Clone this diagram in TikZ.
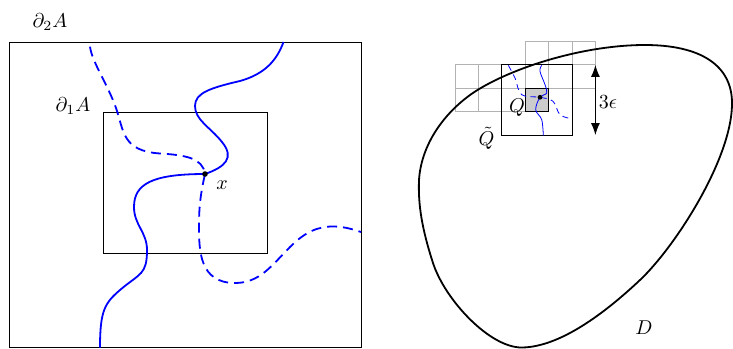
\documentclass[tikz,border=0pt]{standalone}
\usetikzlibrary{arrows.meta}
\tikzset{
  frame/.style={draw=black, line width=0.45pt},
  pathsolid/.style={draw=blue, line width=0.9pt},
  pathdash/.style={draw=blue, line width=0.9pt, dash pattern=on 5pt off 3pt},
  smallsolid/.style={draw=blue, line width=0.4pt},
  smalldash/.style={draw=blue, line width=0.4pt, dash pattern=on 3pt off 2.2pt},
  gridline/.style={draw=black!30, line width=0.45pt},
  lbl/.style={inner sep=0pt},
}
\begin{document}
\begin{tikzpicture}[x=0.5pt,y=-0.5pt]
\useasboundingbox (0,0) rectangle (733,348);
% ---------- left panel ----------
\draw[frame] (9,42) rectangle (361,347);
\draw[frame] (103,112) rectangle (267,253);
\node[lbl] (d2) at (50,22) {$\partial_2 A$};
\node[lbl] (d1) at (73,106) {$\partial_1 A$};
\coordinate (px) at (205,174);
\draw[pathsolid] (100,347.5) .. controls (100,310) and (105,303) .. (120,290)
  .. controls (140,273) and (147,275) .. (147,250)
  .. controls (147,232) and (134,225) .. (134,207)
  .. controls (134,184) and (152,174) .. (px)
  .. controls (225,167) and (235,158) .. (222,142)
  .. controls (210,127) and (195,120) .. (195,106)
  .. controls (195,93) and (210,88) .. (240,81)
  .. controls (265,74) and (277,60) .. (283.5,42);
\draw[pathdash] (90,46.7) .. controls (92,62) and (108,85) .. (116,108)
  .. controls (124,131) and (122,151) .. (160,153.5)
  .. controls (185,155) and (203,158) .. (px)
  .. controls (201,192) and (199,205) .. (199,225)
  .. controls (199,250) and (199,283) .. (235,283)
  .. controls (260,283) and (272,265) .. (290,247)
  .. controls (305,232) and (318,226) .. (335,226.5)
  .. controls (345,227) and (352,229) .. (361,232);
\fill (px) circle (1.4pt);
\node[lbl] (xl) at (222,185) {$x$};
% ---------- right panel ----------
% grid cells (light gray)
\foreach \c in {3,4,5} {\draw[gridline] ({455+23.4*\c},41.5) rectangle ++(23.4,23.4);}
\foreach \c in {0,...,5} {\draw[gridline] ({455+23.4*\c},64.9) rectangle ++(23.4,23.4);}
\foreach \c in {0,1,2} {\draw[gridline] ({455+23.4*\c},88.3) rectangle ++(23.4,23.4);}
% Q tilde and Q
\draw[frame] (501.8,64.9) rectangle (572,135.1);
\filldraw[frame, fill=black!20] (525.2,88.3) rectangle (548.6,111.7);
% blob D
\draw[line width=0.9pt] (645,45) .. controls (700,45) and (733,65) .. (732,105)
  .. controls (731,160) and (675,247) .. (640,280)
  .. controls (605,313) and (560,347) .. (522,347.5)
  .. controls (490,348) and (445,300) .. (433,263)
  .. controls (422,229) and (418,205) .. (419,180)
  .. controls (421,148) and (440,117) .. (470,95)
  .. controls (505,70) and (580,45) .. cycle;
% small paths
\coordinate (qx) at (540,97.3);
\draw[smallsolid] plot[smooth, tension=0.6] coordinates {
 (541.7,65.3) (540,71.3) (545,84.7) (546.7,93) (qx) (535.7,109.7)
 (541.7,119.7) (543.3,135.5)};
\draw[smalldash] plot[smooth, tension=0.6] coordinates {
 (508.3,65.3) (515,78) (521.7,94.7) (qx) (553,101.3) (560,114.7) (571.7,118.7)};
\fill (qx) circle (1.2pt);
% 3 epsilon arrow
\coordinate (at) at (595.4,64.9);
\coordinate (ab) at (595.4,135.1);
\draw[line width=0.6pt, {Latex[length=6pt,width=4.5pt]}-{Latex[length=6pt,width=4.5pt]}] (at) -- (ab);
\node[lbl, anchor=west] (eps) at (598.5,102) {$3\epsilon$};
\node[lbl] (ql) at (517,108) {$Q$};
\node[lbl] (qtl) at (486.5,138) {$\tilde Q$};
\node[lbl] (dl) at (644,328) {$D$};
\end{tikzpicture}
\end{document}
